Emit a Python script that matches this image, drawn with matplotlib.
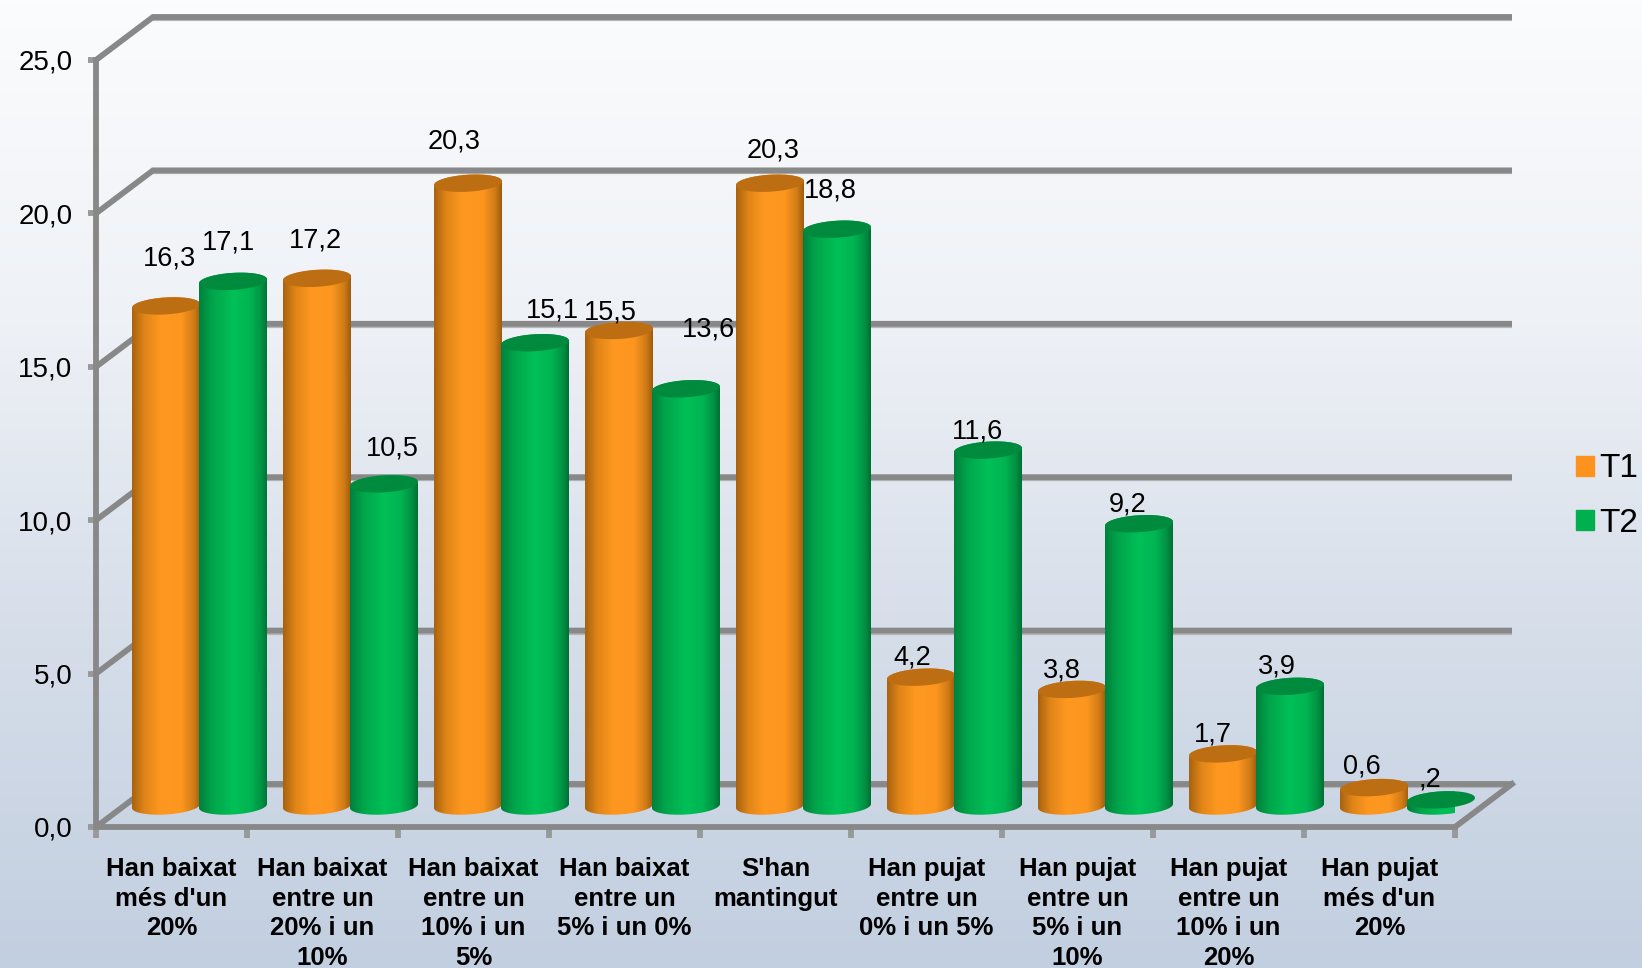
"""Two-series cylinder chart (T1 / T2) with a fake 3D back wall."""

import matplotlib

matplotlib.use("Agg")
import matplotlib.pyplot as plt  # noqa: E402
import numpy as np  # noqa: E402
from matplotlib.colors import LinearSegmentedColormap  # noqa: E402
from matplotlib.patches import Patch  # noqa: E402
from matplotlib.path import Path  # noqa: E402

W, H = 1642, 968
GREY = "#888888"
FONT = "Liberation Sans"

categories = [
    "Han baixat\nmés d'un\n20%",
    "Han baixat\nentre un\n20% i un\n10%",
    "Han baixat\nentre un\n10% i un\n5%",
    "Han baixat\nentre un\n5% i un 0%",
    "S'han\nmantingut",
    "Han pujat\nentre un\n0% i un 5%",
    "Han pujat\nentre un\n5% i un\n10%",
    "Han pujat\nentre un\n10% i un\n20%",
    "Han pujat\nmés d'un\n20%",
]
t1 = [16.3, 17.2, 20.3, 15.5, 20.3, 4.2, 3.8, 1.7, 0.6]
t2 = [17.1, 10.5, 15.1, 13.6, 18.8, 11.6, 9.2, 3.9, 0.2]
t1_labels = ["16,3", "17,2", "20,3", "15,5", "20,3", "4,2", "3,8", "1,7", "0,6"]
t2_labels = ["17,1", "10,5", "15,1", "13,6", "18,8", "11,6", "9,2", "3,9", ",2"]
y_ticks = [0, 5, 10, 15, 20, 25]
y_tick_labels = ["0,0", "5,0", "10,0", "15,0", "20,0", "25,0"]

# label offsets from the top of each bar, in pixels
t1_offsets = [(3, 47), (-2, 38), (-14, 42), (-9, 18), (3, 33), (-9, 20), (-10, 19), (-10, 19), (-12, 21)]
t2_offsets = [(-5, 39), (8, 35), (17, 32), (22, 59), (-7, 39), (-11, 19), (-11, 19), (-13, 20), (-11, 20)]

fig = plt.figure(figsize=(W / 100, H / 100), dpi=100)

# page background
bg = fig.add_axes([0, 0, 1, 1], zorder=0)
bg_cmap = LinearSegmentedColormap.from_list("bg", ["#fbfcfd", "#eef1f6", "#d5dde9", "#c2cfe0"])
bg.imshow(np.linspace(0, 1, 256).reshape(-1, 1), cmap=bg_cmap, aspect="auto")
bg.axis("off")

ax = fig.add_axes([96 / W, 1 - 827 / H, (1455 - 96) / W, (827 - 60) / H], zorder=1)
ax.patch.set_alpha(0)
ax.set_xlim(0, 9)
ax.set_ylim(0, 25)
px_x = 9 / (1455 - 96)
px_y = 25 / (827 - 60)

# back wall lines, each with a lighter edge underneath
dx, dy = 57 * px_x, 43 * px_y
for v in y_ticks:
    ax.plot([dx, 9 + dx], [v + dy - 3 * px_y] * 2, color="#b4b6ba", lw=1.6, clip_on=False, zorder=0.9,
            solid_capstyle="butt")
    ax.plot([0, dx, 9 + dx], [v, v + dy, v + dy], color=GREY, lw=4.2, clip_on=False, zorder=1,
            solid_joinstyle="miter", solid_capstyle="butt")
ax.plot([9, 9 + dx], [0, dy], color=GREY, lw=4.2, clip_on=False, zorder=1)

# axes
for s in ("top", "right"):
    ax.spines[s].set_visible(False)
for s in ("left", "bottom"):
    ax.spines[s].set_color(GREY)
    ax.spines[s].set_linewidth(4.2)
    ax.spines[s].set_zorder(2)
ax.set_yticks(y_ticks)
ax.set_yticklabels(y_tick_labels, fontsize=20, family=FONT, color="black")
ax.tick_params(axis="y", length=6, width=4.2, color="#999999", pad=11)
ax.set_xticks(range(10))
ax.set_xticklabels([])
ax.tick_params(axis="x", which="major", length=8, width=4.2, color="#999999")
ax.set_xticks(np.arange(9) + 0.5, minor=True)
ax.set_xticklabels(categories, minor=True, fontsize=18.5, family=FONT, fontweight="bold",
                   linespacing=1.3, color="black")
ax.tick_params(axis="x", which="minor", length=0, pad=21.5)

orange_cmap = LinearSegmentedColormap.from_list(
    "o", [(0, "#a8620f"), (0.18, "#e08518"), (0.42, "#ff9820"), (0.72, "#fd961f"), (0.9, "#d07c17"), (1, "#a05c0e")])
green_cmap = LinearSegmentedColormap.from_list(
    "g", [(0, "#00803c"), (0.2, "#00a64b"), (0.5, "#00c057"), (0.75, "#00b452"), (0.92, "#008f42"), (1, "#006f35")])

bar_w = 68 * px_x
base = 21 * px_y
semi_y = 8.5 * px_y
shear = 2 * px_y


def rim(cx, cy, t):
    # tilted ellipse outline, at angle(s) t
    return cx + bar_w / 2 * np.cos(t), cy + semi_y * np.sin(t) + shear * np.cos(t)


def cylinder(cx, value, cmap, top_color, z):
    top_y = base + value
    lower = np.linspace(np.pi, 2 * np.pi, 40)
    upper = np.linspace(0, np.pi, 40)
    xs1, ys1 = rim(cx, base, lower)
    xs2, ys2 = rim(cx, top_y, upper)
    verts = np.column_stack([np.r_[xs1, xs2], np.r_[ys1, ys2]])
    img = ax.imshow(np.linspace(0, 1, 128).reshape(1, -1), cmap=cmap, aspect="auto", zorder=z, clip_on=True,
                    extent=[cx - bar_w / 2, cx + bar_w / 2, base - 2 * semi_y, top_y + 2 * semi_y])
    img.set_clip_path(Path(np.vstack([verts, verts[0]]), closed=True), ax.transData)
    xs, ys = rim(cx, top_y, np.linspace(0, 2 * np.pi, 80))
    ax.fill(xs, ys, color=top_color, lw=0, zorder=z + 0.1, clip_on=False)


z = 3
for i in range(9):
    cx1 = i + (166 - 96) * px_x
    cx2 = i + (233 - 96) * px_x
    cylinder(cx1, t1[i], orange_cmap, "#bd6e12", z)
    cylinder(cx2, t2[i], green_cmap, "#008a3e", z + 0.5)
    z += 1
    for cx, v, lab, off in ((cx1, t1[i], t1_labels[i], t1_offsets[i]), (cx2, t2[i], t2_labels[i], t2_offsets[i])):
        ax.annotate(lab, (cx, base + v), xytext=(off[0] * 0.72, off[1] * 0.72), textcoords="offset points",
                    ha="center", va="center", fontsize=19.5, family=FONT, color="black", zorder=50,
                    annotation_clip=False)
ax.set_xlim(0, 9)
ax.set_ylim(0, 25)

handles = [Patch(color="#fd921f", label="T1"), Patch(color="#00b04f", label="T2")]
fig.legend(handles=handles, loc="center left", bbox_to_anchor=(1576 / W, 1 - 496 / H), frameon=False,
           prop={"family": FONT, "size": 24}, handlelength=0.55, handleheight=0.55, handletextpad=0.15,
           labelspacing=0.7, borderpad=0, borderaxespad=0)

fig.savefig("out.png", dpi=100)
plt.close(fig)
